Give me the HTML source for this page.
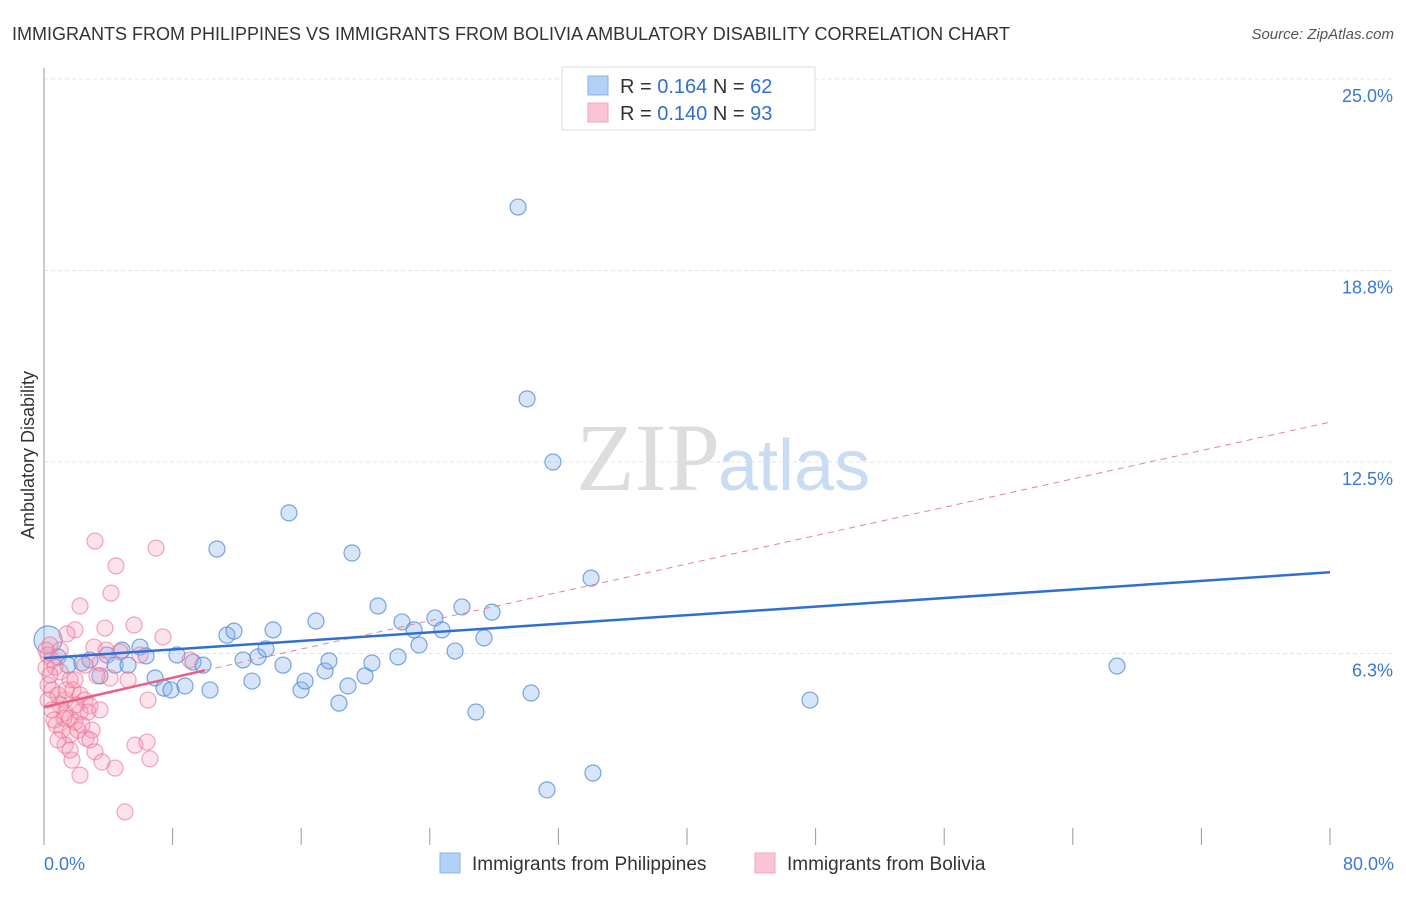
<!DOCTYPE html><html><head><meta charset="utf-8"><style>
body{margin:0;background:#fff;font-family:"Liberation Sans",sans-serif}
</style></head><body>
<svg width="1406" height="892" xmlns="http://www.w3.org/2000/svg">
<text x="12" y="40" font-size="18" fill="#333">IMMIGRANTS FROM PHILIPPINES VS IMMIGRANTS FROM BOLIVIA AMBULATORY DISABILITY CORRELATION CHART</text>
<text x="1394" y="39" font-size="15" fill="#555" font-style="italic" text-anchor="end">Source: ZipAtlas.com</text>
<g id="grid"></g>
<line x1="44" y1="68" x2="44" y2="845" stroke="#999" stroke-width="1"/>
<g id="xticks"></g>
<text x="720" y="490" font-size="96" fill="#ddd" text-anchor="end" font-family="Liberation Serif,serif">ZIP</text>
<text x="718" y="490" font-size="72" fill="#c9dcf3">atlas</text>
<text transform="translate(34,455) rotate(-90)" font-size="18" fill="#333" text-anchor="middle">Ambulatory Disability</text>
<g id="pts"></g>
<g id="trend"></g>
<g>
<rect x="562" y="67" width="253" height="63" fill="#fff" stroke="#ddd"/>
<rect x="588" y="76" width="20" height="19" fill="#b3d0f5" stroke="#8ab4ea"/>
<rect x="588" y="103" width="20" height="19" fill="#f9c4d3" stroke="#f3a6bd"/>
<text x="620" y="93" font-size="20" fill="#333">R = <tspan fill="#2f6fd1">0.164</tspan>   N = <tspan fill="#2f6fd1">62</tspan></text>
<text x="620" y="120" font-size="20" fill="#333">R = <tspan fill="#2f6fd1">0.140</tspan>   N = <tspan fill="#2f6fd1">93</tspan></text>
</g>
<text x="44" y="870" font-size="18" fill="#3a78d4">0.0%</text>
<text x="1394" y="870" font-size="18" fill="#3a78d4" text-anchor="end">80.0%</text>
<g>
<rect x="440" y="853" width="20" height="20" fill="#b3d0f5" stroke="#8ab4ea"/>
<text x="472" y="870" font-size="19" fill="#333">Immigrants from Philippines</text>
<rect x="755" y="853" width="20" height="20" fill="#f9c4d3" stroke="#f3a6bd"/>
<text x="787" y="870" font-size="19" fill="#333">Immigrants from Bolivia</text>
</g>
</svg>
<script>
const yTicks=[6.3,12.5,18.8,25.0];
const xTickVals=[0,8,16,24,32,40,48,56,64,72,80];
const bluePx=[[48,640],[58,657],[68,665],[82,663],[90,660],[100,676],[107,655],[115,665],[122,650],[128,665],[140,647],[146,656],[155,678],[164,688],[171,690],[177,655],[185,686],[193,662],[203,665],[210,690],[217,549],[227,635],[234,631],[243,660],[252,681],[258,657],[266,649],[273,630],[283,665],[289,513],[301,690],[305,681],[316,621],[325,671],[329,661],[339,703],[348,686],[352,553],[365,676],[372,663],[378,606],[398,657],[402,622],[414,630],[419,645],[435,618],[442,630],[455,651],[462,607],[476,712],[484,638],[492,612],[518,207],[527,399],[531,693],[547,790],[553,462],[591,578],[593,773],[810,700],[1117,666]];
const pinkPx=[[95,541],[116,566],[156,548],[111,593],[80,606],[134,625],[105,628],[75,630],[67,634],[163,637],[94,647],[50,645],[48,655],[52,660],[46,668],[55,667],[60,672],[70,680],[48,685],[52,690],[58,695],[65,700],[73,690],[80,695],[85,700],[90,706],[60,705],[65,713],[70,718],[75,722],[80,712],[88,712],[56,725],[62,730],[70,735],[78,730],[86,738],[92,730],[65,745],[95,752],[72,760],[80,775],[102,762],[115,768],[135,745],[147,742],[150,759],[125,812],[148,700],[110,678],[97,676],[100,663],[128,680],[140,655],[190,660],[85,665],[60,650],[48,700],[52,710],[66,690],[76,705],[100,710],[58,740],[90,740],[75,680],[82,725],[70,750],[64,718],[54,720],[106,650],[120,652],[46,650],[50,675]];
// convert to data values (percent)
const blueX=bluePx.map(p=>+((p[0]-44)/16.075).toFixed(2)), blueY=bluePx.map(p=>+((845-p[1])/30.64).toFixed(2));
const pinkX=pinkPx.map(p=>+((p[0]-44)/16.075).toFixed(2)), pinkY=pinkPx.map(p=>+((845-p[1])/30.64).toFixed(2));
const blueTrend=[[0,6.1],[80,8.9]];
const pinkTrend=[[0,4.5],[10,5.7]];
const pinkDash=[[10,5.7],[80,13.8]];
const X=v=>44+v*16.075, Y=v=>845-v*30.64;
const NS="http://www.w3.org/2000/svg";
function mk(t,a,p){const e=document.createElementNS(NS,t);for(const k in a)e.setAttribute(k,a[k]);p.appendChild(e);return e;}
const grid=document.getElementById('grid');
yTicks.forEach(v=>{
 const l=mk('line',{x1:44,x2:1394,y1:Y(v===25?25:v===18.8?18.75:v===12.5?12.5:6.25),y2:Y(v===25?25:v===18.8?18.75:v===12.5?12.5:6.25),stroke:'#e4e4e4','stroke-dasharray':'4,3'},grid);
 
 
 const t=mk('text',{x:1393,y:Y(v===25?25:v===18.8?18.75:v===12.5?12.5:6.25)+23,'font-size':18,fill:'#3a78d4','text-anchor':'end'},grid);
 t.textContent=v.toFixed(1)+'%';
 
 
});
const xt=document.getElementById('xticks');
xTickVals.forEach(v=>{
 const l=mk('line',{x1:X(v),x2:X(v),y1:828,y2:845,stroke:'#999'},xt);
 
 
});
const pts=document.getElementById('pts');
blueX.forEach((x,i)=>{
 const c=mk('circle',{cx:X(x),cy:Y(blueY[i]),r:i===0?14:8,fill:'rgba(140,180,235,0.35)',stroke:'rgba(70,130,215,0.7)','stroke-width':1.2},pts);
 
 
});
pinkX.forEach((x,i)=>{
 const c=mk('circle',{cx:X(x),cy:Y(pinkY[i]),r:8,fill:'rgba(245,160,185,0.3)',stroke:'rgba(235,110,150,0.6)','stroke-width':1.2},pts);
 
 
});
const tr=document.getElementById('trend');
let l=mk('line',{x1:X(pinkDash[0][0]),y1:Y(pinkDash[0][1]),x2:X(pinkDash[1][0]),y2:Y(pinkDash[1][1]),stroke:'#e8809e','stroke-width':1,'stroke-dasharray':'6,5'},tr);


l=mk('line',{x1:X(blueTrend[0][0]),y1:Y(blueTrend[0][1]),x2:X(blueTrend[1][0]),y2:Y(blueTrend[1][1]),stroke:'#2f6fd1','stroke-width':2.5},tr);


l=mk('line',{x1:X(pinkTrend[0][0]),y1:Y(pinkTrend[0][1]),x2:X(pinkTrend[1][0]),y2:Y(pinkTrend[1][1]),stroke:'#e8608a','stroke-width':2.5},tr);


</script>
</body></html>
